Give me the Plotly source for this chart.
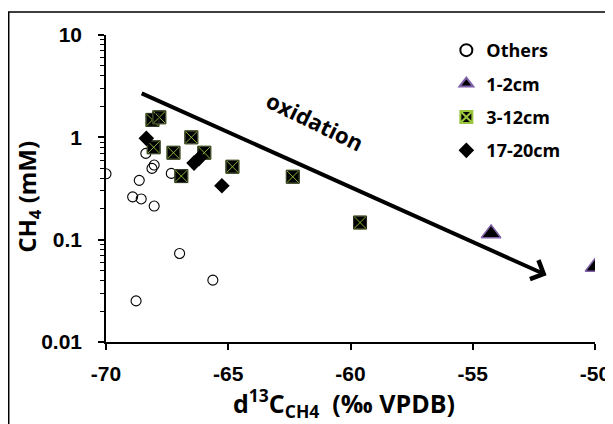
import plotly.graph_objects as go
import math

# Data (d13C-CH4 in ‰ VPDB, CH4 in mM)
others_x = [-70.0, -68.64, -68.91, -68.56, -68.03, -68.12, -68.03, -67.33, -66.99, -65.63, -68.77, -68.37]
others_y = [0.44, 0.38, 0.262, 0.25, 0.213, 0.497, 0.536, 0.444, 0.0733, 0.0402, 0.0252, 0.697]

cm1_2_x = [-54.25, -50.0]
cm1_2_y = [0.115, 0.054]

cm3_12_x = [-68.10, -67.82, -68.05, -67.24, -66.51, -65.98, -66.92, -64.83, -62.36, -59.61]
cm3_12_y = [1.48, 1.57, 0.80, 0.707, 1.0, 0.707, 0.418, 0.516, 0.412, 0.147]

cm17_20_x = [-68.35, -66.40, -66.20, -65.26]
cm17_20_y = [0.977, 0.56, 0.62, 0.336]

arrow_tail = (-68.6, 2.73)
arrow_head = (-51.98, 0.045)
label_pos = (-61.45, 1.45)

x_ticks = [-70, -65, -60, -55, -50]
y_ticks = [0.01, 0.1, 1, 10]
y_ticktext = ["0.01", "0.1", "1", "10"]

TXT = "Open Sans"
NUM = "Liberation Sans"

fig = go.Figure()
fig.add_trace(go.Scatter(x=others_x, y=others_y, mode="markers", name="Others",
                         legendgroup="a",
                         marker=dict(symbol="circle-open", size=10, color="black", line=dict(width=1.1, color="black"))))
fig.add_trace(go.Scatter(x=cm1_2_x, y=cm1_2_y, mode="markers", name="1-2cm",
                         legendgroup="b",
                         marker=dict(symbol="triangle-up", size=17, color="black", line=dict(width=1.5, color="#7F5FA8"))))
fig.add_trace(go.Scatter(x=cm3_12_x, y=cm3_12_y, mode="markers", name="3-12cm",
                         legendgroup="c",
                         marker=dict(symbol="square-x", size=13, color="black", line=dict(width=0.9, color="#9BC53D"))))
fig.add_trace(go.Scatter(x=cm3_12_x, y=cm3_12_y, mode="markers", name="3-12cm",
                         legendgroup="c", showlegend=False, hoverinfo="skip",
                         marker=dict(symbol="square-open", size=13, color="#2a2a2a", line=dict(width=1, color="#2a2a2a"))))
fig.add_trace(go.Scatter(x=cm17_20_x, y=cm17_20_y, mode="markers", name="17-20cm",
                         legendgroup="d",
                         marker=dict(symbol="diamond", size=12, color="black", line=dict(width=0, color="black"))))

fig.add_annotation(x=arrow_head[0], y=math.log10(arrow_head[1]), ax=arrow_tail[0], ay=math.log10(arrow_tail[1]),
                   xref="x", yref="y", axref="x", ayref="y", showarrow=True, text="",
                   arrowhead=4, arrowsize=1.0, arrowwidth=4, arrowcolor="black")
fig.add_annotation(x=label_pos[0], y=math.log10(label_pos[1]), xref="x", yref="y", text="<b>oxidation</b>",
                   showarrow=False, textangle=26, font=dict(family=TXT, size=22, color="black"))

# axis titles
fig.add_annotation(x=0.487, y=-0.2, xref="paper", yref="paper", showarrow=False,
                   xanchor="center", yanchor="middle",
                   text="<b>d<sup>13</sup>C<sub>CH4</sub>  (‰ VPDB)</b>", font=dict(family=TXT, size=25, color="black"))
fig.add_annotation(x=-0.16, y=0.472, xref="paper", yref="paper", showarrow=False, textangle=-90,
                   xanchor="center", yanchor="middle",
                   text="<b>CH<sub>4</sub> (mM)</b>", font=dict(family=TXT, size=24, color="black"))

# figure border
fig.add_shape(type="rect", xref="paper", yref="paper", x0=-0.1989, x1=1.1, y0=-0.35, y1=1.075,
              line=dict(color="black", width=1.5), fillcolor="rgba(0,0,0,0)", layer="below")

fig.update_xaxes(range=[-70, -50], tickvals=x_ticks, ticktext=["<b>%d</b>" % v for v in x_ticks],
                 automargin=False,
                 showline=True, linecolor="black", linewidth=1.5, showgrid=False, zeroline=False,
                 ticks="outside", ticklen=6, tickwidth=1.5, tickcolor="black", ticklabelstandoff=6,
                 tickfont=dict(family=NUM, size=21, color="black", weight="bold"))
fig.update_yaxes(type="log", range=[-2, 1], tickvals=y_ticks, ticktext=["<b>%s</b>" % t for t in y_ticktext],
                 automargin=False,
                 showline=True, linecolor="black", linewidth=1.5, showgrid=False, zeroline=False,
                 ticks="outside", ticklen=6, tickwidth=1.5, tickcolor="black", ticklabelstandoff=12,
                 minor=dict(ticks="outside", ticklen=4, tickwidth=1, tickcolor="black", dtick="D1"),
                 tickfont=dict(family=NUM, size=21, color="black", weight="bold"))

fig.update_layout(width=605, height=416, margin=dict(l=98, r=18, t=27, b=82),
                  paper_bgcolor="white", plot_bgcolor="white",
                  legend=dict(x=0.696, y=1.01, xanchor="left", yanchor="top", bgcolor="rgba(0,0,0,0)",
                              font=dict(family=TXT, size=18, color="black", weight="bold"),
                              tracegroupgap=7, itemsizing="constant"),
                  showlegend=True)

fig.write_html("out.html")
